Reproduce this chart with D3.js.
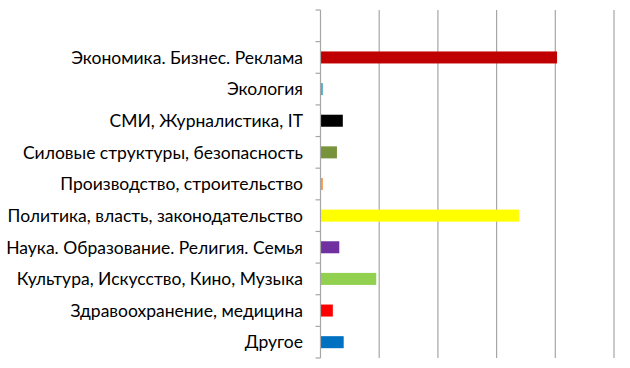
<!DOCTYPE html>
<html><head><meta charset="utf-8">
<script src="https://cdn.jsdelivr.net/npm/d3@7"></script>
<style>body{margin:0;background:#fff}svg{display:block}</style>
</head><body><div id="chart"></div>
<script>
const categories = ["", "Экономика. Бизнес. Реклама", "Экология", "СМИ, Журналистика, IT",
  "Силовые структуры, безопасность", "Производство, строительство",
  "Политика, власть, законодательство", "Наука. Образование. Религия. Семья",
  "Культура, Искусство, Кино, Музыка", "Здравоохранение, медицина", "Другое"];
const values = [0, 40.3, 0.4, 3.8, 2.8, 0.4, 33.8, 3.2, 9.5, 2.1, 3.95];
const colors = ["#ffffff", "#C00000", "#4BACC6", "#000000", "#77933C", "#F79646",
  "#FFFF00", "#7030A0", "#92D050", "#FF0000", "#0070C0"];
const xTicks = [0, 10, 20, 30, 40, 50];

const W = 630, H = 368;
const svg = d3.select("#chart").append("svg").attr("width", W).attr("height", H);
const x = d3.scaleLinear().domain([0, 50]).range([320.5, 614]);
const y = d3.scaleBand().domain(categories.map((c, i) => i)).range([10, 358]).paddingInner(0.62).paddingOuter(0.31);

// gridlines
svg.append("g").selectAll("line").data(xTicks.slice(1)).join("line")
  .attr("x1", d => x(d)).attr("x2", d => x(d)).attr("y1", 10).attr("y2", 358)
  .attr("stroke", "#A6A6A6").attr("stroke-width", 1.2);

// bars
svg.append("g").selectAll("rect").data(values).join("rect")
  .attr("x", x(0)).attr("y", (d, i) => y(i)).attr("height", y.bandwidth())
  .attr("width", d => x(d) - x(0)).attr("fill", (d, i) => colors[i]);

// axis line
svg.append("line").attr("x1", x(0)).attr("x2", x(0)).attr("y1", 10).attr("y2", 358)
  .attr("stroke", "#A6A6A6").attr("stroke-width", 1.2);
// ticks at band boundaries
const bounds = d3.range(categories.length + 1).map(i => 10 + i * (348 / categories.length));
svg.append("g").selectAll("line").data(bounds).join("line")
  .attr("x1", x(0) - 5).attr("x2", x(0)).attr("y1", d => d).attr("y2", d => d)
  .attr("stroke", "#A6A6A6").attr("stroke-width", 1.2);

// labels
svg.append("g").selectAll("text").data(categories).join("text")
  .attr("x", 303).attr("y", (d, i) => y(i) + y.bandwidth() / 2)
  .attr("dy", "0.36em").attr("text-anchor", "end")
  .attr("font-family", "Lato, 'Open Sans', sans-serif").attr("font-size", 17.5)
  .attr("fill", "#000").text(d => d);
</script></body></html>
